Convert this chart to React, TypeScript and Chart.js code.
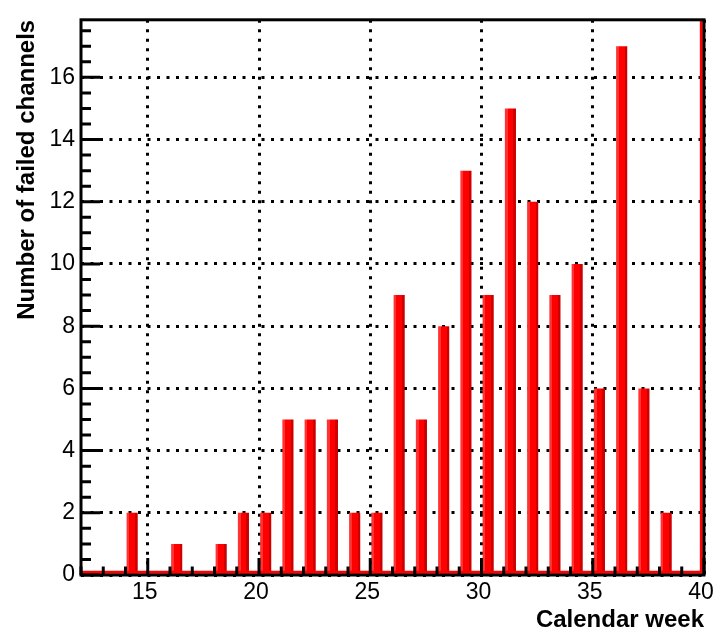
import React, { useEffect, useRef } from "react";
import { Chart, registerables } from "chart.js";

Chart.register(...registerables);

// ---- data ----
const weeks = [14, 16, 18, 19, 20, 21, 22, 23, 24, 25, 26, 27, 28, 29, 30, 31, 32, 33, 34, 35, 36, 37, 38];
const failedChannels = [2, 1, 1, 2, 2, 5, 5, 5, 2, 2, 9, 5, 8, 13, 9, 15, 12, 9, 10, 6, 17, 6, 2];

// histogram contour (red line along zero and the clipped edge bin at the right)
const outlineX = [12, 39.88, 39.88];
const outlineY = [0.09, 0.09, 25];

const xTickValues = [15, 20, 25, 30, 35, 40];
const yTickValues = [0, 2, 4, 6, 8, 10, 12, 14, 16];

const X_MIN = 12;
const X_MAX = 40;
const Y_MIN = 0;
const Y_MAX = 17.85;

// ---- style ----
const BAR_OFFSET = 0.3; // bars sit slightly right of the bin's integer
const BAR_WIDTH = 0.5;
const RED = "#ff0000";
const LIGHT = "#ff3333";
const DARK = "#cc0000";
const FONT = "'Liberation Sans', Arial, Helvetica, sans-serif";

const barFill = (ctx: any) => {
  const chart = ctx.chart;
  const xs = chart.scales && chart.scales.x;
  if (!xs || !ctx.parsed || ctx.type !== "data") return RED;
  const c = xs.getPixelForValue(ctx.parsed.x);
  const unit = xs.getPixelForValue(1) - xs.getPixelForValue(0);
  if (!isFinite(c) || !isFinite(unit)) return RED;
  const half = (unit * BAR_WIDTH) / 2;
  const g = chart.ctx.createLinearGradient(c - half, 0, c + half, 0);
  g.addColorStop(0, LIGHT);
  g.addColorStop(0.25, LIGHT);
  g.addColorStop(0.25, RED);
  g.addColorStop(0.76, RED);
  g.addColorStop(0.76, DARK);
  g.addColorStop(1, DARK);
  return g;
};

const frameAndTicks = {
  id: "frameAndTicks",
  afterDatasetsDraw(chart: any) {
    const { ctx, chartArea: a, scales } = chart;
    const x = scales.x;
    const y = scales.y;
    ctx.save();
    ctx.strokeStyle = "#000";
    ctx.lineWidth = 3;
    ctx.beginPath();
    for (let v = Math.ceil(x.min); v <= x.max + 1e-9; v += 1) {
      const px = x.getPixelForValue(v);
      const len = v % 5 === 0 ? 17 : 8.5;
      ctx.moveTo(px, a.bottom);
      ctx.lineTo(px, a.bottom - len);
    }
    for (let v = 0; v <= y.max + 1e-9; v += 0.5) {
      const py = y.getPixelForValue(v);
      const len = v % 2 === 0 ? 19 : 10;
      ctx.moveTo(a.left, py);
      ctx.lineTo(a.left + len, py);
    }
    ctx.stroke();
    ctx.strokeRect(a.left, a.top, a.right - a.left, a.bottom - a.top);
    ctx.restore();
  },
};

export default function App() {
  const ref = useRef<HTMLCanvasElement>(null);
  useEffect(() => {
    const chart = new Chart(ref.current as HTMLCanvasElement, {
      type: "bar",
      data: {
        datasets: [
          {
            type: "bar",
            label: "failed channels",
            data: weeks.map((w, i) => ({ x: w + BAR_OFFSET, y: failedChannels[i] })),
            backgroundColor: barFill as any,
            borderWidth: 0,
            barPercentage: BAR_WIDTH,
            categoryPercentage: 1,
            order: 2,
          } as any,
          {
            type: "line",
            label: "outline",
            data: outlineX.map((v, i) => ({ x: v, y: outlineY[i] })),
            borderColor: RED,
            borderWidth: 3,
            pointRadius: 0,
            tension: 0,
            fill: false,
            order: 1,
          } as any,
        ],
      },
      options: {
        responsive: false,
        animation: false,
        events: [],
        devicePixelRatio: 1,
        layout: { padding: { left: 0, top: 10, right: 20, bottom: 0 } },
        plugins: { legend: { display: false }, tooltip: { enabled: false } },
        scales: {
          x: {
            type: "linear",
            min: X_MIN,
            max: X_MAX,
            offset: false,
            afterBuildTicks: (s: any) => {
              s.ticks = xTickValues.map((v) => ({ value: v }));
            },
            afterFit: (s: any) => {
              s.height = 58;
            },
            grid: {
              offset: false,
              drawOnChartArea: true,
              drawTicks: false,
              color: "#000",
              lineWidth: 3,
            },
            border: { display: false, dash: [3, 6.5] },
            ticks: {
              autoSkip: false,
              maxRotation: 0,
              padding: 4,
              labelOffset: -3,
              color: "#000",
              font: { family: FONT, size: 23 },
            },
            title: {
              display: true,
              text: "Calendar week",
              align: "end",
              color: "#000",
              padding: { top: 0, bottom: 1 },
              font: { family: FONT, size: 24, weight: "bold", lineHeight: 1 },
            },
          },
          y: {
            type: "linear",
            min: Y_MIN,
            max: Y_MAX,
            afterBuildTicks: (s: any) => {
              s.ticks = yTickValues.map((v) => ({ value: v }));
            },
            afterFit: (s: any) => {
              s.width = 81;
            },
            grid: {
              drawOnChartArea: true,
              drawTicks: false,
              color: "#000",
              lineWidth: 3,
            },
            border: { display: false, dash: [3, 6.5] },
            ticks: {
              padding: 6,
              color: "#000",
              font: { family: FONT, size: 23 },
            },
            title: {
              display: true,
              text: "Number of failed channels",
              align: "end",
              color: "#000",
              padding: { top: 15.5, bottom: 0 },
              font: { family: FONT, size: 24, weight: "bold", lineHeight: 1 },
            },
          },
        },
      } as any,
      plugins: [frameAndTicks],
    });
    return () => chart.destroy();
  }, []);
  return (
    <div style={{ position: "absolute", left: 0, top: 0, width: 724, height: 633 }}>
      <canvas ref={ref} width={724} height={633} style={{ display: "block" }} />
    </div>
  );
}
